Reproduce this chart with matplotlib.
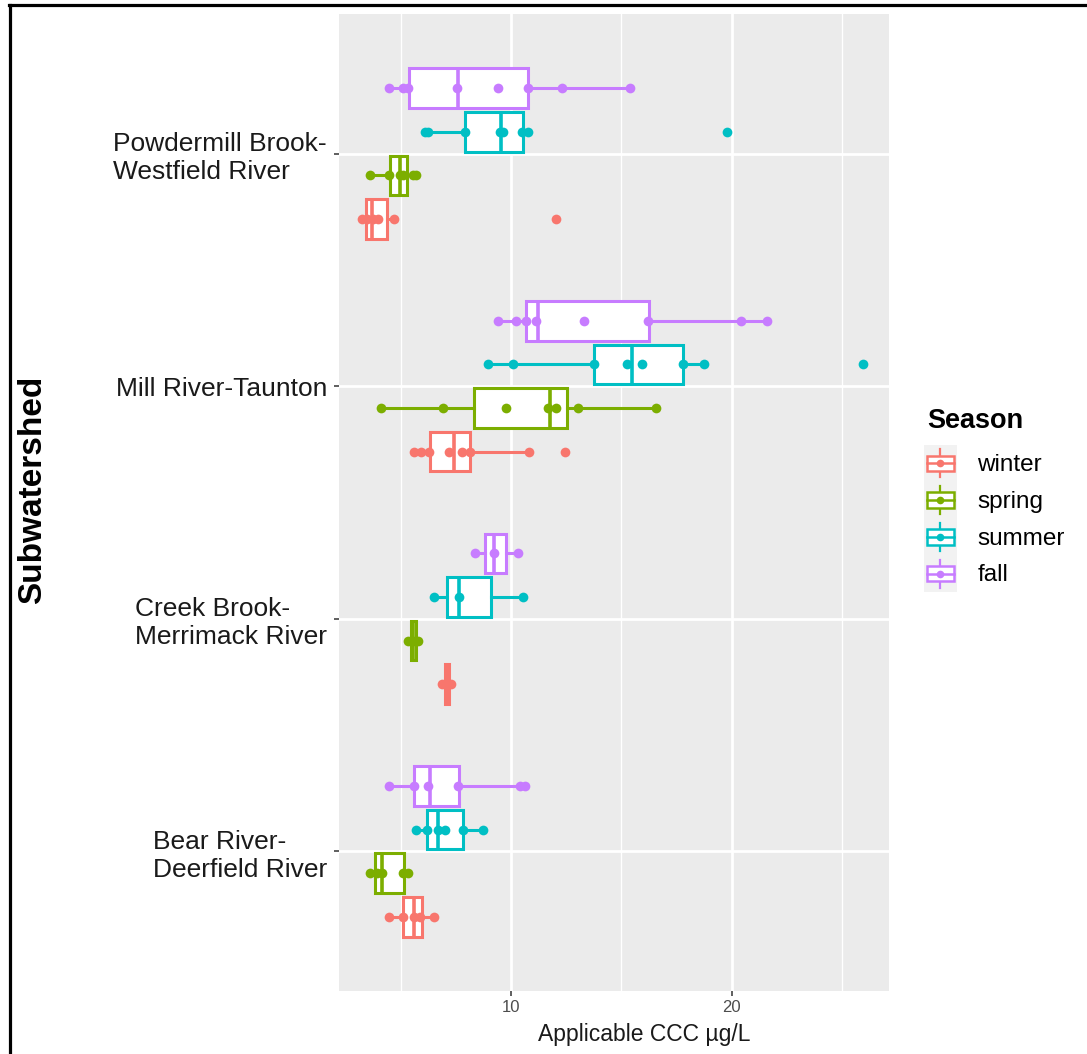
import matplotlib.pyplot as plt
from matplotlib.lines import Line2D
from matplotlib.patches import Rectangle
from matplotlib.legend_handler import HandlerBase

plt.rcParams['font.family'] = ['Liberation Sans', 'DejaVu Sans']

# categories, bottom to top
subwatersheds = ["Bear River-\nDeerfield River", "Creek Brook-\nMerrimack River",
                 "Mill River-Taunton", "Powdermill Brook-\nWestfield River"]
seasons = ["winter", "spring", "summer", "fall"]
colors = ["#F8766D", "#7CAE00", "#00BFC4", "#C77CFF"]

# individual values (ug/L) per season
bear_pts = {"winter": [4.48, 5.12, 5.60, 5.87, 6.51],
            "spring": [3.61, 3.91, 4.14, 5.12, 5.34],
            "summer": [5.69, 6.20, 6.70, 7.01, 7.81, 8.72],
            "fall": [4.48, 5.60, 6.25, 7.61, 10.41, 10.63]}
creek_pts = {"winter": [6.85, 7.08, 7.30],
             "spring": [5.35, 5.57, 5.80],
             "summer": [6.52, 7.66, 10.53],
             "fall": [8.37, 9.23, 10.30]}
mill_pts = {"winter": [5.60, 5.91, 6.30, 7.17, 7.79, 8.15, 10.80, 12.44],
            "spring": [4.09, 6.90, 9.79, 11.69, 12.05, 13.05, 16.57],
            "summer": [8.96, 10.10, 13.76, 15.28, 15.95, 17.78, 18.75, 25.98],
            "fall": [9.43, 10.21, 10.68, 11.15, 13.33, 16.22, 20.41, 21.61]}
powder_pts = {"winter": [3.23, 3.45, 3.76, 3.98, 4.70, 12.04],
              "spring": [3.61, 4.48, 4.97, 5.10, 5.55, 5.70],
              "summer": [6.10, 6.22, 7.91, 9.50, 9.62, 10.49, 10.79, 19.78],
              "fall": [4.48, 5.09, 5.34, 7.54, 9.40, 10.76, 12.33, 15.40]}

# box stats: whisker low, q1, median, q3, whisker high
bear_box = {"winter": (4.48, 5.09, 5.60, 5.95, 6.51),
            "spring": (3.61, 3.85, 4.16, 5.14, 5.34),
            "summer": (5.69, 6.18, 6.70, 7.81, 8.72),
            "fall": (4.48, 5.60, 6.33, 7.66, 10.63)}
creek_box = {"winter": (6.85, 6.99, 7.08, 7.18, 7.30),
             "spring": (5.35, 5.45, 5.57, 5.68, 5.80),
             "summer": (6.52, 7.09, 7.66, 9.10, 10.53),
             "fall": (8.37, 8.80, 9.23, 9.77, 10.30)}
mill_box = {"winter": (5.60, 6.34, 7.40, 8.15, 10.80),
            "spring": (4.09, 8.34, 11.77, 12.55, 16.57),
            "summer": (8.96, 13.76, 15.49, 17.81, 18.75),
            "fall": (9.43, 10.68, 11.22, 16.25, 21.61)}
powder_box = {"winter": (3.23, 3.42, 3.68, 4.36, 4.70),
              "spring": (3.61, 4.50, 4.97, 5.27, 5.70),
              "summer": (6.10, 7.91, 9.55, 10.56, 10.79),
              "fall": (4.48, 5.39, 7.61, 10.76, 15.40)}

all_pts = [bear_pts, creek_pts, mill_pts, powder_pts]
all_box = [bear_box, creek_box, mill_box, powder_box]


class BoxKey(HandlerBase):
    def create_artists(self, legend, orig_handle, xdescent, ydescent,
                       width, height, fontsize, trans):
        c = orig_handle.get_color()
        x0, y0 = -xdescent, -ydescent
        cx, cy = x0 + width / 2, y0 + height / 2
        bg = Rectangle((x0, y0), width, height, fc="#F2F2F2", ec="none", transform=trans)
        wh = Line2D([cx, cx], [y0 + height * 0.12, y0 + height * 0.88], color=c, lw=1.6, transform=trans)
        bx = Rectangle((x0 + 2, cy - height * 0.21), width - 4, height * 0.42,
                       fc="white", ec=c, lw=1.8, transform=trans)
        md = Line2D([x0 + 2, x0 + width - 2], [cy, cy], color=c, lw=1.8, transform=trans)
        dt = Line2D([cx], [cy], marker="o", ms=5.5, color=c, mec="none", transform=trans)
        return [bg, wh, bx, md, dt]


fig = plt.figure(figsize=(10.87, 10.54), dpi=100)
ax = fig.add_axes([339 / 1087, 1 - 991 / 1054, 550 / 1087, 977 / 1054])
ax.set_facecolor("#EBEBEB")

dodge = 0.1875
for i in range(4):
    for j, s in enumerate(seasons):
        c = colors[j]
        pos = i + 1 + (j - 1.5) * dodge
        wl, q1, md, q3, wh = all_box[i][s]
        ax.bxp([dict(whislo=wl, q1=q1, med=md, q3=q3, whishi=wh, fliers=[])],
               positions=[pos], widths=0.17, orientation="horizontal",
               patch_artist=True, showcaps=False, manage_ticks=False,
               boxprops=dict(facecolor="white", edgecolor=c, linewidth=2.2),
               whiskerprops=dict(color=c, linewidth=2.2),
               medianprops=dict(color=c, linewidth=2.6), zorder=3)
        pts = all_pts[i][s]
        ax.plot(pts, [pos] * len(pts), "o", color=c, ms=7, mec="none", zorder=4)

ax.set_xlim(2.2, 27.14)
ax.set_ylim(0.4, 4.6)
ax.set_xticks([10, 20])
ax.set_xticks([5, 15, 25], minor=True)
ax.set_yticks([1, 2, 3, 4])
ax.set_yticklabels(subwatersheds)
for lab in ax.get_yticklabels():
    lab.set_multialignment("left")

ax.grid(which="major", color="white", linewidth=2.0)
ax.grid(which="minor", axis="x", color="white", linewidth=1.0)
ax.set_axisbelow(True)
for sp in ax.spines.values():
    sp.set_visible(False)

ax.tick_params(which="major", length=3.6, width=1.1, color="#333333")
ax.tick_params(which="minor", length=0)
ax.tick_params(axis="y", labelsize=19, labelcolor="#1A1A1A", pad=5)
ax.tick_params(axis="x", labelsize=12, labelcolor="#4D4D4D", pad=3)

fig.text(644 / 1087, 1 - 1035 / 1054, "Applicable CCC µg/L", ha="center", va="center",
         fontsize=16.5, color="#1A1A1A")
fig.text(33 / 1087, 1 - 490 / 1054, "Subwatershed", rotation=90, ha="center", va="center",
         fontsize=24, fontweight="bold")

fig.text(927 / 1087, 1 - 421 / 1054, "Season", ha="left", va="center",
         fontsize=19.5, fontweight="bold")
handles = [Line2D([], [], color=c) for c in colors]
fig.legend(handles, seasons, handler_map={Line2D: BoxKey()}, loc="upper left",
           bbox_to_anchor=(924 / 1087, 1 - 445 / 1054), frameon=False, fontsize=17.5,
           handlelength=1.35, handleheight=1.95, labelspacing=0.0, handletextpad=0.85,
           borderaxespad=0, borderpad=0)

# outer frame
fig.add_artist(Line2D([9.5 / 1087, 9.5 / 1087], [0, 1 - 4.5 / 1054], color="black", lw=2.3,
                      transform=fig.transFigure))
fig.add_artist(Line2D([8.5 / 1087, 1], [1 - 5 / 1054, 1 - 5 / 1054], color="black", lw=2.3,
                      transform=fig.transFigure))

fig.savefig("out.png", dpi=100)
